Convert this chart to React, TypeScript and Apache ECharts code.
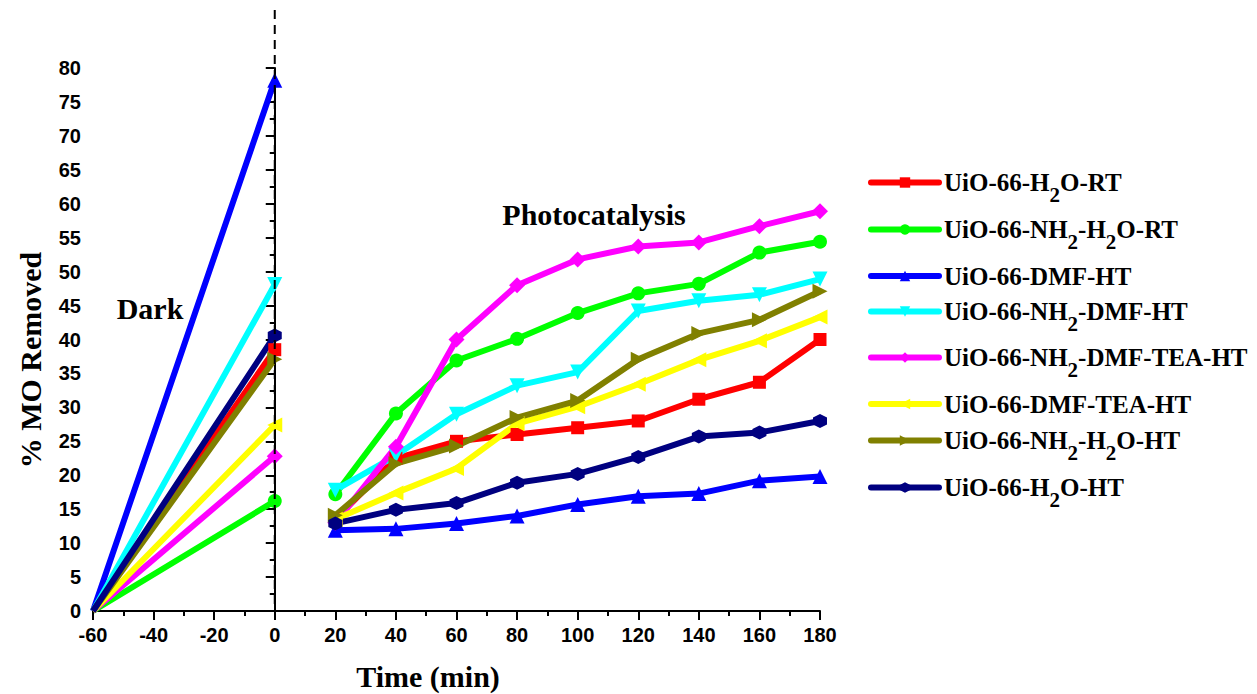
import React, { useEffect, useRef } from "react";
import * as echarts from "echarts";

const darkTime = [-60, 0];
const photoTime = [20, 40, 60, 80, 100, 120, 140, 160, 180];

const seriesNames = [
  "UiO-66-H2O-RT",
  "UiO-66-NH2-H2O-RT",
  "UiO-66-DMF-HT",
  "UiO-66-NH2-DMF-HT",
  "UiO-66-NH2-DMF-TEA-HT",
  "UiO-66-DMF-TEA-HT",
  "UiO-66-NH2-H2O-HT",
  "UiO-66-H2O-HT",
];
const seriesColors = ["#FF0000", "#00FF00", "#0000FF", "#00FFFF", "#FF00FF", "#FFFF00", "#808000", "#000080"];

const darkH2ORT = [0, 38.5];
const photoH2ORT = [13.5, 22.5, 25.0, 26.0, 27.0, 28.0, 31.2, 33.7, 40.0];
const darkNH2H2ORT = [0, 16.2];
const photoNH2H2ORT = [17.2, 29.1, 36.9, 40.1, 43.9, 46.8, 48.2, 52.8, 54.4];
const darkDMFHT = [0, 78.2];
const photoDMFHT = [11.9, 12.1, 12.9, 14.0, 15.7, 16.9, 17.3, 19.2, 19.8];
const darkNH2DMFHT = [0, 48.1];
const photoNH2DMFHT = [17.8, 22.9, 29.0, 33.2, 35.2, 44.2, 45.7, 46.6, 48.9];
const darkNH2DMFTEAHT = [0, 22.8];
const photoNH2DMFTEAHT = [13.0, 24.2, 40.0, 48.0, 51.8, 53.7, 54.3, 56.7, 58.9];
const darkDMFTEAHT = [0, 27.4];
const photoDMFTEAHT = [13.5, 17.4, 21.0, 27.6, 30.1, 33.4, 37.0, 39.8, 43.3];
const darkNH2H2OHT = [0, 37.1];
const photoNH2H2OHT = [14.1, 21.7, 24.3, 28.5, 31.0, 37.1, 40.9, 42.9, 47.1];
const darkH2OHT = [0, 40.6];
const photoH2OHT = [12.9, 14.9, 15.9, 18.9, 20.2, 22.7, 25.7, 26.3, 28.0];

const darkValues = [darkH2ORT, darkNH2H2ORT, darkDMFHT, darkNH2DMFHT, darkNH2DMFTEAHT, darkDMFTEAHT, darkNH2H2OHT, darkH2OHT];
const photoValues = [photoH2ORT, photoNH2H2ORT, photoDMFHT, photoNH2DMFHT, photoNH2DMFTEAHT, photoDMFTEAHT, photoNH2H2OHT, photoH2OHT];

const hexagon = "path://M0,-1L0.866,-0.5L0.866,0.5L0,1L-0.866,0.5L-0.866,-0.5Z";
const symbols = ["rect", "circle", "triangle", "triangle", "diamond", "triangle", "triangle", hexagon];
const rotations = [0, 0, 0, 180, 0, 90, -90, 0];
const symbolSizes = [13, 14, 15, 15, 16, 15, 15, 14];

const legendCenters = [182, 229, 276, 311, 357, 404, 440, 487];

const SERIF = "'Liberation Serif', 'Times New Roman', serif";
const SANS = "'Liberation Sans', Arial, sans-serif";

export default function App() {
  const ref = useRef<HTMLDivElement>(null);
  useEffect(() => {
    if (!ref.current) return;
    const chart = echarts.init(ref.current, undefined, { renderer: "svg" });

    const series = seriesNames.map((name, i) => {
      const data: any[] = [];
      darkTime.forEach((t, k) => {
        if (k === 0) data.push({ value: [t, darkValues[i][k]], symbol: "none" });
        else data.push([t, darkValues[i][k]]);
      });
      data.push([10, null]);
      photoTime.forEach((t, k) => data.push([t, photoValues[i][k]]));
      return {
        type: "line",
        name,
        data,
        connectNulls: false,
        symbol: symbols[i],
        symbolRotate: rotations[i],
        symbolSize: symbolSizes[i],
        showAllSymbol: true,
        clip: false,
        lineStyle: { color: seriesColors[i], width: 6 },
        itemStyle: { color: seriesColors[i] },
        emphasis: { disabled: true },
      };
    });

    const legends = seriesNames.map((name, i) => ({
      data: [name],
      left: 868,
      top: legendCenters[i] - 15 - (name.indexOf("2") >= 0 ? 7 : 0),
      padding: 0,
      itemWidth: 68,
      itemHeight: 13,
      selectedMode: false,
      lineStyle: { width: 6, cap: "round" },
      formatter: (n: string) => n.replace(/2/g, "{sub|2}"),
      textStyle: {
        fontFamily: SERIF,
        fontWeight: "bold",
        fontSize: 25,
        color: "#000",
        lineHeight: 30,
        rich: {
          sub: {
            fontFamily: SERIF,
            fontWeight: "bold",
            fontSize: 21,
            color: "#000",
            lineHeight: 30,
            padding: [24, 0, 0, 0],
          },
        },
      },
    }));

    const option: any = {
      animation: false,
      backgroundColor: "#fff",
      grid: { left: 93, right: 437, top: 68, bottom: 83, containLabel: false },
      legend: legends,
      xAxis: {
        type: "value",
        min: -60,
        max: 180,
        interval: 20,
        axisLine: { show: true, onZero: false, lineStyle: { color: "#000", width: 2 } },
        axisTick: { show: true, inside: false, length: 9, lineStyle: { color: "#000", width: 2 } },
        minorTick: { show: true, splitNumber: 2, length: 5, lineStyle: { color: "#000", width: 2 } },
        splitLine: { show: false },
        axisLabel: { color: "#000", fontFamily: SANS, fontWeight: "bold", fontSize: 20, margin: 14 },
      },
      yAxis: {
        type: "value",
        min: 0,
        max: 80,
        interval: 5,
        axisLine: { show: true, lineStyle: { color: "#000", width: 2 } },
        axisTick: { show: true, inside: false, length: 9, lineStyle: { color: "#000", width: 2 } },
        minorTick: { show: true, splitNumber: 2, length: 5, lineStyle: { color: "#000", width: 2 } },
        splitLine: { show: false },
        axisLabel: { color: "#000", fontFamily: SANS, fontWeight: "bold", fontSize: 20, margin: 12 },
      },
      series,
    };
    chart.setOption(option);

    const x0 = chart.convertToPixel({ xAxisIndex: 0 }, 0) as number;
    const yBase = chart.convertToPixel({ yAxisIndex: 0 }, 0) as number;

    const titleStyle = { fontFamily: SERIF, fontWeight: "bold", fontSize: 30, fill: "#000", align: "center", verticalAlign: "middle" };

    chart.setOption({
      graphic: [
        {
          type: "line",
          z: 100,
          shape: { x1: x0, y1: 10, x2: x0, y2: yBase },
          style: { stroke: "#000", lineWidth: 2, lineDash: [9, 6] },
        },
        { type: "text", x: 150, y: 308, style: { ...titleStyle, text: "Dark" } },
        { type: "text", x: 594, y: 214, style: { ...titleStyle, text: "Photocatalysis" } },
        { type: "text", x: 428, y: 676, style: { ...titleStyle, text: "Time (min)" } },
        { type: "text", x: 30, y: 360, rotation: Math.PI / 2, style: { ...titleStyle, text: "% MO Removed" } },
      ],
    });

    return () => chart.dispose();
  }, []);

  return <div ref={ref} style={{ width: 1257, height: 694, position: "absolute", left: 0, top: 0 }} />;
}
